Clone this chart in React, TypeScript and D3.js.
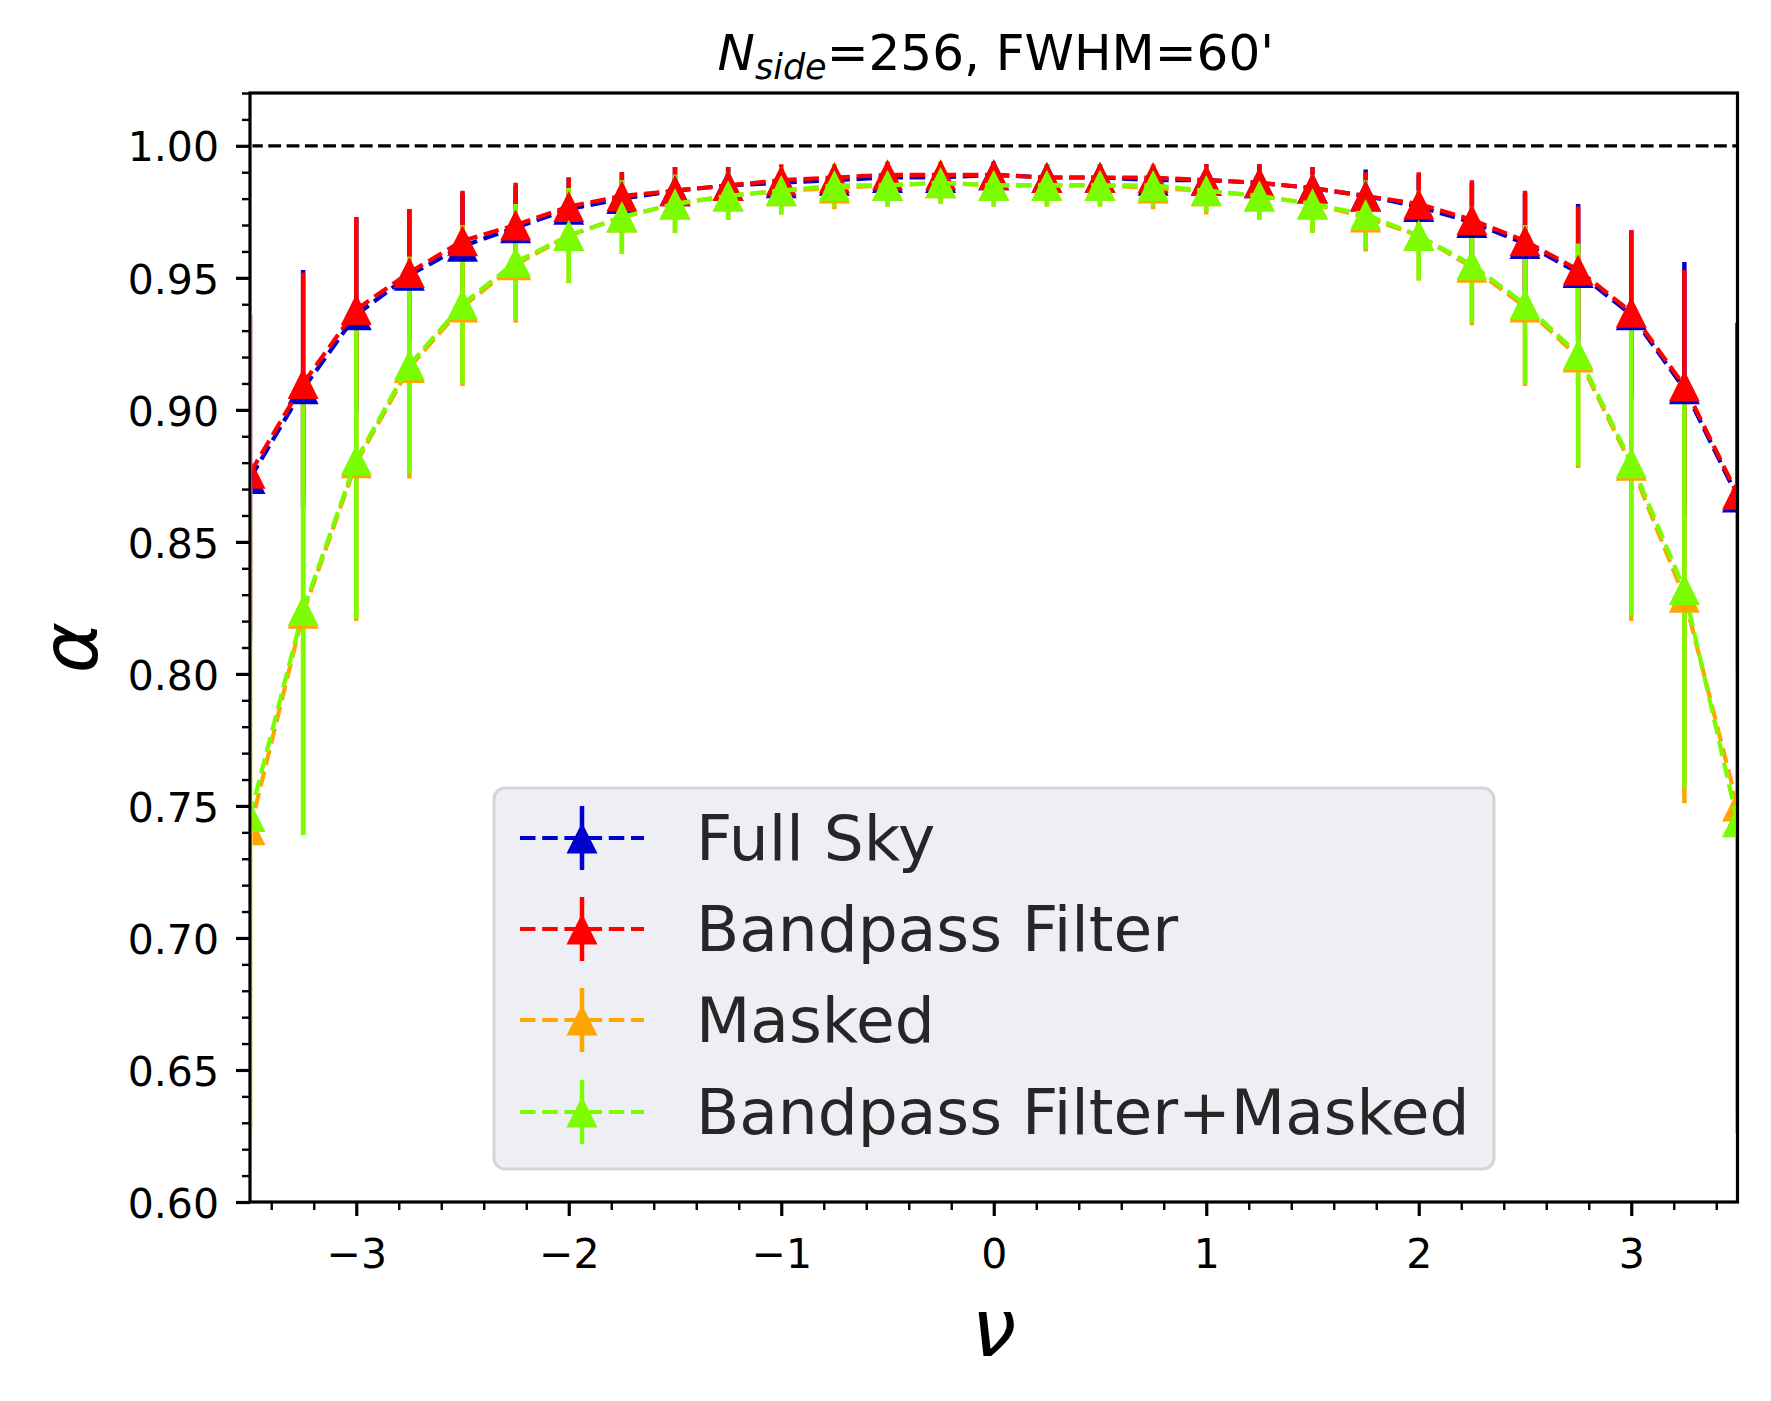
import React, { useEffect, useRef } from 'react';
import * as d3 from 'd3';

// ---------------- data ----------------
const nu = [
  -3.5, -3.25, -3.0, -2.75, -2.5, -2.25, -2.0, -1.75, -1.5, -1.25, -1.0, -0.75, -0.5, -0.25,
  0.0, 0.25, 0.5, 0.75, 1.0, 1.25, 1.5, 1.75, 2.0, 2.25, 2.5, 2.75, 3.0, 3.25, 3.5,
];

const fullSky = [
  0.874, 0.908, 0.936, 0.951, 0.962, 0.969, 0.976, 0.980, 0.983, 0.985, 0.986, 0.987, 0.988, 0.988,
  0.989, 0.988, 0.988, 0.987, 0.987, 0.986, 0.984, 0.981, 0.977, 0.971, 0.963, 0.952, 0.936, 0.908, 0.867,
];
const fullSkyErr = [
  0.062, 0.045, 0.037, 0.025, 0.020, 0.016, 0.012, 0.010, 0.009, 0.007, 0.006, 0.005, 0.005, 0.005,
  0.005, 0.005, 0.005, 0.005, 0.006, 0.007, 0.008, 0.010, 0.012, 0.015, 0.019, 0.026, 0.032, 0.048, 0.066,
];

const bandpass = [
  0.876, 0.910, 0.938, 0.952, 0.964, 0.970, 0.977, 0.981, 0.983, 0.985, 0.987, 0.988, 0.989, 0.989,
  0.989, 0.988, 0.988, 0.988, 0.987, 0.986, 0.984, 0.981, 0.978, 0.972, 0.964, 0.953, 0.937, 0.909, 0.868,
];
const bandpassErr = [
  0.060, 0.042, 0.035, 0.024, 0.019, 0.016, 0.011, 0.009, 0.009, 0.007, 0.006, 0.005, 0.005, 0.005,
  0.005, 0.005, 0.005, 0.005, 0.006, 0.007, 0.008, 0.009, 0.012, 0.015, 0.019, 0.024, 0.031, 0.044, 0.063,
];

const masked = [
  0.741, 0.823, 0.880, 0.916, 0.939, 0.955, 0.966, 0.973, 0.978, 0.981, 0.983, 0.984, 0.985, 0.986,
  0.985, 0.985, 0.985, 0.984, 0.983, 0.981, 0.978, 0.973, 0.966, 0.954, 0.939, 0.920, 0.879, 0.829, 0.750,
];
const maskedErr = [
  0.115, 0.084, 0.060, 0.042, 0.030, 0.022, 0.018, 0.014, 0.011, 0.009, 0.009, 0.008, 0.008, 0.008,
  0.008, 0.008, 0.008, 0.008, 0.009, 0.009, 0.011, 0.013, 0.017, 0.022, 0.030, 0.042, 0.059, 0.078, 0.115,
];

const bpMasked = [
  0.746, 0.824, 0.881, 0.917, 0.940, 0.956, 0.966, 0.973, 0.978, 0.981, 0.983, 0.985, 0.985, 0.986,
  0.985, 0.985, 0.985, 0.985, 0.983, 0.981, 0.978, 0.974, 0.966, 0.955, 0.940, 0.921, 0.880, 0.832, 0.744,
];
const bpMaskedErr = [
  0.118, 0.085, 0.060, 0.041, 0.030, 0.022, 0.018, 0.014, 0.011, 0.009, 0.009, 0.008, 0.008, 0.008,
  0.008, 0.008, 0.008, 0.008, 0.008, 0.009, 0.011, 0.013, 0.017, 0.022, 0.030, 0.042, 0.058, 0.075, 0.118,
];

const seriesNames = ['Full Sky', 'Bandpass Filter', 'Masked', 'Bandpass Filter+Masked'];
const seriesColors = ['#0000CD', '#FF0000', '#FFA500', '#7CFC00'];
const seriesValues = [fullSky, bandpass, masked, bpMasked];
const seriesErrors = [fullSkyErr, bandpassErr, maskedErr, bpMaskedErr];

const xDomain = [-3.5, 3.5];
const yDomain = [0.6, 1.02];
const xMajorTicks = [-3, -2, -1, 0, 1, 2, 3];
const yMajorTicks = [0.6, 0.65, 0.7, 0.75, 0.8, 0.85, 0.9, 0.95, 1.0];
const referenceLevel = 1.0;

// ---------------- layout ----------------
const W = 1771;
const H = 1401;
const AX = { left: 250, right: 1737.5, top: 93, bottom: 1202 };
const FONT = 'DejaVu Sans, Verdana, sans-serif';
const TICK_FS = 41;

export default function App() {
  const x = d3.scaleLinear().domain(xDomain).range([AX.left, AX.right]);
  const y = d3.scaleLinear().domain(yDomain).range([AX.bottom, AX.top]);

  const xMajRef = useRef<SVGGElement>(null);
  const xMinRef = useRef<SVGGElement>(null);
  const yMajRef = useRef<SVGGElement>(null);
  const yMinRef = useRef<SVGGElement>(null);

  const xMinorTicks = d3
    .range(-34, 35, 2)
    .map((v) => v / 10)
    .filter((v) => Math.abs(v - Math.round(v)) > 1e-6);
  const yMinorTicks = d3
    .range(60, 103, 1)
    .map((v) => v / 100)
    .filter((v) => Math.abs(v * 20 - Math.round(v * 20)) > 1e-6);

  useEffect(() => {
    const fmtX = (d: any) => (d < 0 ? '\u2212' + Math.abs(d) : String(d));
    const gx = d3.select(xMajRef.current as SVGGElement);
    gx.call(
      d3
        .axisBottom(x)
        .tickValues(xMajorTicks)
        .tickSize(14)
        .tickSizeOuter(0)
        .tickPadding(14)
        .tickFormat(fmtX as any)
    );
    gx.attr('font-size', TICK_FS).attr('font-family', FONT);
    gx.select('.domain').remove();
    gx.selectAll('.tick line').attr('stroke', '#000').attr('stroke-width', 3.2);
    gx.selectAll('.tick text').attr('y', 66).attr('dy', 0).attr('fill', '#000');

    const gxm = d3.select(xMinRef.current as SVGGElement);
    gxm.call(d3.axisBottom(x).tickValues(xMinorTicks).tickSize(8).tickSizeOuter(0).tickFormat(() => ''));
    gxm.select('.domain').remove();
    gxm.selectAll('.tick line').attr('stroke', '#000').attr('stroke-width', 2.4);

    const gy = d3.select(yMajRef.current as SVGGElement);
    gy.call(
      d3
        .axisLeft(y)
        .tickValues(yMajorTicks)
        .tickSize(14)
        .tickSizeOuter(0)
        .tickPadding(14)
        .tickFormat(d3.format('.2f') as any)
    );
    gy.attr('font-size', TICK_FS).attr('font-family', FONT);
    gy.select('.domain').remove();
    gy.selectAll('.tick line').attr('stroke', '#000').attr('stroke-width', 3.2);
    gy.selectAll('.tick text').attr('x', -31).attr('dy', '0.37em').attr('fill', '#000');

    const gym = d3.select(yMinRef.current as SVGGElement);
    gym.call(d3.axisLeft(y).tickValues(yMinorTicks).tickSize(8).tickSizeOuter(0).tickFormat(() => ''));
    gym.select('.domain').remove();
    gym.selectAll('.tick line').attr('stroke', '#000').attr('stroke-width', 2.4);
  }, []);

  // one dashed segment per consecutive pair of points
  const segGen = d3
    .line<[number, number]>()
    .x((d) => x(d[0]))
    .y((d) => y(d[1]));
  const segments = (vals: number[]) =>
    d3.pairs(vals.map((v, i) => [nu[i], v] as [number, number]));

  const triSize = 15.5;
  const tri = (cx: number, cy: number, h: number) =>
    `M${cx},${cy - h}L${cx + h},${cy + h}L${cx - h},${cy + h}Z`;

  // legend layout
  const leg = { x: 494, y: 788, w: 1000, h: 381 };
  const legRows = [838, 929, 1020, 1112];
  const legLineX0 = 520;
  const legLineX1 = 644;
  const legMarkX = 582;
  const legTextX = 696;

  const axMid = (AX.left + AX.right) / 2;
  const clipInset = 2.4;

  return (
    <svg
      width={W}
      height={H}
      viewBox={`0 0 ${W} ${H}`}
      style={{ position: 'absolute', left: 0, top: 0, background: '#fff' }}
      xmlns="http://www.w3.org/2000/svg"
    >
      <defs>
        <clipPath id="axclip">
          <rect
            x={AX.left + clipInset}
            y={AX.top}
            width={AX.right - AX.left - clipInset}
            height={AX.bottom - AX.top}
          />
        </clipPath>
      </defs>
      <rect x={0} y={0} width={W} height={H} fill="#fff" />

      <g clipPath="url(#axclip)">
        {/* error bars (drawn beneath all lines/markers) */}
        {seriesValues.map((vals, si) => (
          <g key={'eb' + si} stroke={seriesColors[si]} strokeWidth={4.5}>
            {vals.map((v, i) => (
              <line
                key={i}
                x1={x(nu[i])}
                x2={x(nu[i])}
                y1={y(v - seriesErrors[si][i])}
                y2={y(v + seriesErrors[si][i])}
              />
            ))}
          </g>
        ))}

        {/* reference line at alpha = 1 */}
        <line
          x1={AX.left}
          x2={AX.right}
          y1={y(referenceLevel)}
          y2={y(referenceLevel)}
          stroke="#000"
          strokeWidth={3.3}
          strokeDasharray="12.8,5.5"
        />

        {/* series lines + markers */}
        {seriesValues.map((vals, si) => (
          <g key={'s' + si}>
            {segments(vals).map((seg, k) => (
              <path
                key={k}
                d={segGen(seg) || ''}
                fill="none"
                stroke={seriesColors[si]}
                strokeWidth={4.2}
                strokeDasharray="15.5,6.7"
              />
            ))}
            {vals.map((v, i) => (
              <path key={i} d={tri(x(nu[i]), y(v), triSize)} fill={seriesColors[si]} />
            ))}
          </g>
        ))}
      </g>

      {/* axes ticks */}
      <g ref={xMinRef} transform={`translate(0,${AX.bottom})`} />
      <g ref={xMajRef} transform={`translate(0,${AX.bottom})`} />
      <g ref={yMinRef} transform={`translate(${AX.left},0)`} />
      <g ref={yMajRef} transform={`translate(${AX.left},0)`} />

      {/* spines */}
      <rect
        x={AX.left}
        y={AX.top}
        width={AX.right - AX.left}
        height={AX.bottom - AX.top}
        fill="none"
        stroke="#000"
        strokeWidth={3.2}
      />

      {/* title */}
      <text x={axMid + 2} y={70} textAnchor="middle" fontSize={50} fontFamily={FONT} fill="#000">
        <tspan fontStyle="italic">N</tspan>
        <tspan fontStyle="italic" fontSize={35} dy={9}>
          side
        </tspan>
        <tspan dy={-9}>=256, FWHM=60'</tspan>
      </text>

      {/* axis labels */}
      <text x={axMid} y={1356} textAnchor="middle" fontSize={80} fontStyle="italic" fontFamily={FONT} fill="#000">
        ν
      </text>
      <text
        transform={`translate(97,${(AX.top + AX.bottom) / 2}) rotate(-90)`}
        textAnchor="middle"
        fontSize={78}
        fontStyle="italic"
        fontFamily={FONT}
        fill="#000"
      >
        α
      </text>

      {/* legend */}
      <g>
        <rect
          x={leg.x}
          y={leg.y}
          width={leg.w}
          height={leg.h}
          rx={11}
          ry={11}
          fill="#EEEEF5"
          stroke="#D5D5D5"
          strokeWidth={3}
        />
        {seriesNames.map((name, si) => {
          const ry = legRows[si];
          return (
            <g key={'leg' + si}>
              <line x1={legMarkX} x2={legMarkX} y1={ry - 32} y2={ry + 32} stroke={seriesColors[si]} strokeWidth={4.5} />
              <line
                x1={legLineX0}
                x2={legLineX1}
                y1={ry}
                y2={ry}
                stroke={seriesColors[si]}
                strokeWidth={4.2}
                strokeDasharray="15.5,6.7"
              />
              <path d={tri(legMarkX, ry, triSize)} fill={seriesColors[si]} />
              <text x={legTextX} y={ry + 22} fontSize={63} fontFamily={FONT} fill="#262626">
                {name}
              </text>
            </g>
          );
        })}
      </g>
    </svg>
  );
}
